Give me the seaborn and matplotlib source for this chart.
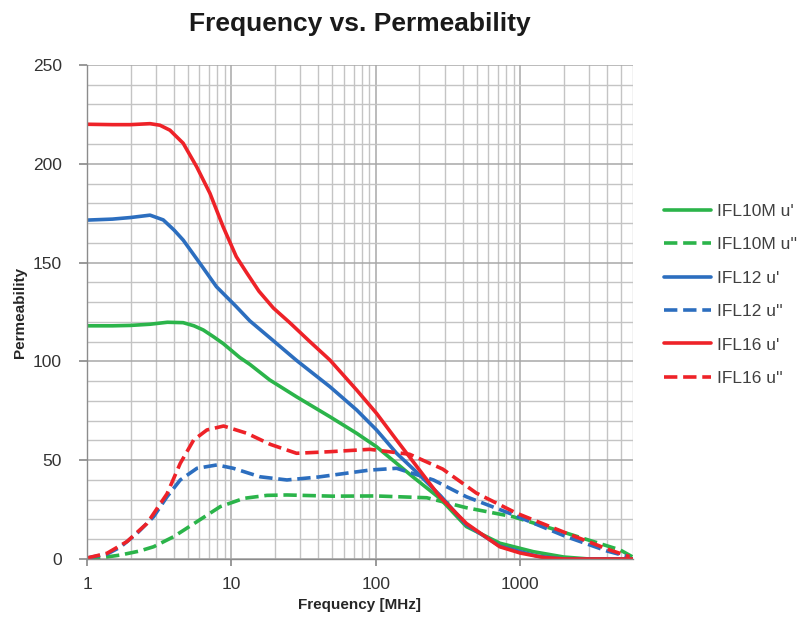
import numpy as np
import pandas as pd
import matplotlib
matplotlib.use("Agg")
import matplotlib.pyplot as plt
import seaborn as sns
from matplotlib.ticker import FixedLocator, NullFormatter, LogLocator

sns.set_theme(style="white")
plt.rcParams['font.family'] = ['Liberation Sans', 'DejaVu Sans']

# ---- data ----
f_10m_r = [1, 1.5, 2, 2.73, 3.6, 4.63, 5.5, 6.38, 7.5, 8.77, 10, 11.4, 13.4, 18.4, 28.2, 48, 73.6, 101, 139,
           180, 277, 423, 720, 1230, 2000, 3000, 6000]
u_10m_r = [118, 118, 118.2, 118.8, 119.8, 119.6, 118, 115.9, 112.5, 109, 105.5, 102, 98.5, 90.6, 82.1, 72, 63.6,
           56.8, 48.4, 41.6, 30.7, 16.4, 8, 3.7, 1, 0, 0]

f_10m_i = [1, 1.3, 1.7, 2.3, 2.89, 3.98, 5.77, 8.36, 12.2, 17.6, 24.2, 50, 100, 225, 420, 890, 2000, 4900, 6000]
u_10m_i = [0, 0.8, 2, 4, 6.2, 11.3, 18.9, 26.5, 30.7, 32.2, 32.4, 31.8, 31.9, 31, 26, 21.4, 13.5, 4.6, 1]

f_12_r = [1, 1.5, 2, 2.73, 3.37, 4.0, 4.63, 6.05, 7.87, 10.8, 13.4, 18.4, 28.2, 48, 73.6, 101, 139, 191, 280, 420,
          720, 1300, 2000, 3000, 6000]
u_12_r = [171.5, 172, 172.8, 174, 171.6, 166.5, 161.4, 149.6, 137.8, 127.7, 120.5, 112, 100.5, 87.2, 75.4, 65.3,
          53.5, 44, 32, 17.5, 6.5, 1.5, 0, 0, 0]

f_12_i = [1, 1.375, 1.7, 2.22, 2.89, 3.58, 4.42, 5.77, 7.93, 10.3, 15.8, 24.2, 40, 90.6, 139, 250, 423, 850,
          2080, 4000, 5700]
u_12_i = [0.5, 2.5, 6, 13, 21.4, 31.5, 40, 45.9, 47.6, 45.9, 41.6, 40, 41.5, 45, 45.9, 40, 31.5, 23, 11.3, 4, 1]

f_16_r = [1, 1.5, 2, 2.73, 3.2, 3.75, 4.63, 5.74, 7.1, 8.77, 10.8, 12.7, 15.5, 19.5, 25.4, 34.9, 48, 73.6, 101,
          139, 191, 277, 423, 720, 1000, 1440, 2000, 3000, 6000]
u_16_r = [220, 219.8, 219.8, 220.3, 219.5, 217, 210.4, 198.5, 185, 168, 153, 145, 135.5, 127, 119.5, 110, 100.7,
          85.5, 73.7, 60.2, 47, 31.5, 18, 6.2, 3, 0.8, 0, 0, 0]

f_16_i = [1, 1.375, 1.89, 2.6, 3.58, 4.42, 5.47, 6.76, 8.82, 12.8, 18.6, 28.2, 48, 90.6, 171, 290, 495, 940,
          2080, 4150, 5700]
u_16_i = [0.5, 2.9, 8.8, 18, 33, 48.4, 60.2, 65.3, 67.3, 63.6, 58, 53.5, 54.3, 55.5, 53, 45.5, 33.4, 23.2, 13.1,
          4.6, 1.2]

series = [
    ("IFL10M u'", f_10m_r, u_10m_r, "#2bb44a", "-"),
    ("IFL10M u''", f_10m_i, u_10m_i, "#2bb44a", "--"),
    ("IFL12 u'", f_12_r, u_12_r, "#2c6ebf", "-"),
    ("IFL12 u''", f_12_i, u_12_i, "#2c6ebf", "--"),
    ("IFL16 u'", f_16_r, u_16_r, "#ee2228", "-"),
    ("IFL16 u''", f_16_i, u_16_i, "#ee2228", "--"),
]

fig = plt.figure(figsize=(8.02, 6.17), dpi=100)
ax = fig.add_axes([0.1085, 0.094, 0.6805, 0.8007])

for name, fx, uy, col, ls in series:
    df = pd.DataFrame({"f": fx, "u": uy})
    kw = dict(dashes=(3, 1.8)) if ls == "--" else {}
    sns.lineplot(data=df, x="f", y="u", ax=ax, color=col, linewidth=2.6,
                 linestyle=ls, label=name, sort=False, **kw)
for ln in ax.get_lines():
    ln.set_solid_joinstyle("round")
    ln.set_dash_joinstyle("round")

ax.set_xscale("log")
ax.set_xlim(1, 6000)
ax.set_ylim(0, 250)
ax.xaxis.set_major_locator(FixedLocator([1, 10, 100, 1000]))
ax.set_xticklabels(["1", "10", "100", "1000"])
ax.xaxis.set_minor_locator(LogLocator(base=10, subs=np.arange(2, 10)))
ax.xaxis.set_minor_formatter(NullFormatter())
ax.set_yticks(np.arange(0, 251, 50))
ax.set_yticks(np.arange(0, 251, 10), minor=True)

ax.grid(True, which="major", color="#a8a8a8", linewidth=1.1)
ax.grid(True, which="minor", color="#c4c4c4", linewidth=1.0)
ax.set_axisbelow(True)

for s in ["top", "right"]:
    ax.spines[s].set_visible(False)
for s in ["left", "bottom"]:
    ax.spines[s].set_color("#8c8c8c")
    ax.spines[s].set_linewidth(1.0)

ax.tick_params(axis="y", which="major", left=True, length=6, color="#8c8c8c",
               labelsize=12.5, labelcolor="#333333", pad=12)
ax.tick_params(axis="y", which="minor", left=False)
ax.tick_params(axis="x", which="major", bottom=True, length=5, color="#8c8c8c",
               labelsize=12.5, labelcolor="#333333", pad=8)
ax.tick_params(axis="x", which="minor", bottom=False)

ax.set_xlabel("Frequency [MHz]", fontsize=11, fontweight="bold", color="#262626", labelpad=4)
ax.set_ylabel("Permeability", fontsize=11, fontweight="bold", color="#262626", labelpad=4)

fig.suptitle("Frequency vs. Permeability", x=0.449, y=0.98, fontsize=19,
             fontweight="bold", color="#1a1a1a")

leg = ax.legend(loc="center left", bbox_to_anchor=(0.808, 0.522),
                bbox_transform=fig.transFigure, frameon=False, fontsize=12.5,
                labelspacing=1.05, handlelength=2.7, handletextpad=0.4)
for t in leg.get_texts():
    t.set_color("#404040")

fig.savefig("out.png", dpi=100)
